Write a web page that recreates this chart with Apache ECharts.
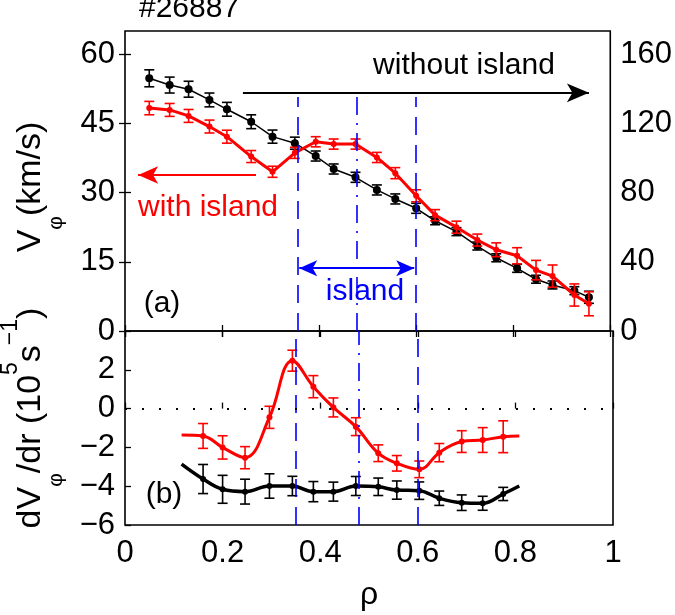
<!DOCTYPE html>
<html><head><meta charset="utf-8">
<script src="https://cdn.jsdelivr.net/npm/echarts@6/dist/echarts.min.js"></script>
<style>html,body{margin:0;padding:0;background:#fff}#c{width:675px;height:615px}</style>
</head><body><div id="c"></div>
<script>
// ---- data ----
const rhoTop = [0.050,0.092,0.131,0.174,0.210,0.260,0.304,0.350,0.393,0.430,0.475,0.519,0.557,0.600,0.639,0.683,0.726,0.765,0.808,0.847,0.881,0.926,0.956];
const redTop = [48.3,47.9,46.6,44.3,42.1,37.8,34.5,38.6,41.0,40.5,40.5,37.6,34.2,29.3,25.1,22.5,19.7,17.6,16.3,13.2,11.9,7.8,5.9];
const redTopErr = [1.45,1.4,1.4,1.4,1.4,1.3,1.2,1.2,1.1,1.1,1.1,1.1,1.2,1.3,1.2,1.3,1.3,1.5,1.75,2.1,2.4,2.4,2.6];
const blackTop = [146.0,142.1,139.7,133.5,128.1,120.9,112.3,108.5,101.1,93.6,88.8,81.5,76.3,70.9,63.7,57.4,49.1,42.3,36.2,29.9,26.6,23.3,19.5];
const blackTopErr = [4.9,4.6,4.6,4.0,4.0,4.0,3.8,3.5,2.9,2.9,2.9,2.9,2.9,2.9,2.3,2.3,2.3,2.3,2.3,2.3,2.3,2.3,3.5];

const rhoBot = [0.116,0.160,0.200,0.246,0.296,0.343,0.386,0.427,0.473,0.519,0.557,0.603,0.644,0.690,0.733,0.775,0.808];
const redBot = [-1.36,-1.41,-2.0,-2.53,-0.45,2.47,1.13,0.06,-0.93,-2.3,-2.82,-3.13,-2.27,-1.7,-1.62,-1.45,-1.41];
const redBotErr = [null,0.64,0.6,0.57,0.57,0.54,0.57,0.49,0.46,0.43,0.4,0.43,0.47,0.56,0.64,0.82,null];
const blackBot = [-2.86,-3.63,-4.16,-4.28,-3.99,-3.99,-4.28,-4.28,-3.99,-4.03,-4.2,-4.23,-4.62,-4.85,-4.88,-4.4,-3.99];
const blackBotErr = [null,0.75,0.72,0.64,0.63,0.5,0.52,0.49,0.49,0.45,0.47,0.45,0.37,0.4,0.36,0.34,null];

const islandLines = [0.355, 0.478, 0.600];
const islandStyles = ['dashed', 'dashdot', 'dashed'];
const islandTop = 50.7;
const arrowBlack = [[0.243, 51.6], [0.956, 51.6]];
const arrowRed = [[0.27, 33.8], [0.027, 33.8]];
const arrowBlue = [[0.359, 13.6], [0.596, 13.6]];

// ---- helpers ----
const FONT = 'Liberation Sans, Arial, Helvetica, sans-serif';
const RED = '#ff0000', BLUE = '#0000ff', BLACK = '#000000';
const TICKFS = 31;
const minus = v => String(v).replace('-', '\u2212');

function errRender(capW, lw) {
  return function (params, api) {
    const x = api.value(0), y = api.value(1), e = api.value(2);
    const p1 = api.coord([x, y - e]);
    const p2 = api.coord([x, y + e]);
    const style = { stroke: api.visual('color'), lineWidth: lw };
    return { type: 'group', children: [
      { type: 'line', shape: { x1: p1[0], y1: p1[1], x2: p2[0], y2: p2[1] }, style },
      { type: 'line', shape: { x1: p1[0] - capW / 2, y1: p1[1], x2: p1[0] + capW / 2, y2: p1[1] }, style },
      { type: 'line', shape: { x1: p2[0] - capW / 2, y1: p2[1], x2: p2[0] + capW / 2, y2: p2[1] }, style }
    ]};
  };
}
function errData(xs, ys, es) {
  const out = [];
  xs.forEach((x, i) => { if (es[i] != null) out.push([x, ys[i], es[i]]); });
  return out;
}
function lineData(xs, ys, es) {
  return xs.map((x, i) => es && es[i] == null ? { value: [x, ys[i]], symbol: 'none' } : [x, ys[i]]);
}
function dashType(t) { return t === 'dashdot' ? [18, 8, 2, 8] : [18, 10]; }

const xCommon = (grid, pos, showLabel) => ({
  type: 'value', gridIndex: grid, position: pos, min: 0, max: 1, interval: 0.2,
  axisLine: { show: false }, splitLine: { show: false },
  axisTick: { show: true, inside: true, length: 6, lineStyle: { color: BLACK, width: 1.3 } },
  axisLabel: { show: showLabel, color: BLACK, fontSize: TICKFS, fontFamily: FONT, margin: 13 }
});
const yTick = { show: true, inside: true, length: 6, lineStyle: { color: BLACK, width: 1.3 } };

const chart = echarts.init(document.getElementById('c'), null, { renderer: 'canvas' });
chart.setOption({
  animation: false,
  backgroundColor: '#fff',
  grid: [
    { left: 125, top: 31, width: 488, height: 300, show: true, borderColor: BLACK, borderWidth: 1.6, backgroundColor: 'transparent' },
    { left: 125, top: 331, width: 488, height: 194, show: true, borderColor: BLACK, borderWidth: 1.6, backgroundColor: 'transparent' }
  ],
  xAxis: [
    xCommon(0, 'bottom', false),
    xCommon(0, 'top', false),
    Object.assign(xCommon(1, 'bottom', true), { name: 'ρ', nameLocation: 'middle', nameGap: 54,
      nameTextStyle: { fontSize: 32, fontFamily: FONT, color: BLACK } }),
    xCommon(1, 'top', false)
  ],
  yAxis: [
    { type: 'value', gridIndex: 0, position: 'left', min: 0, max: 65, interval: 15,
      axisLine: { show: false }, splitLine: { show: false }, axisTick: yTick,
      axisLabel: { color: BLACK, fontSize: TICKFS, fontFamily: FONT, margin: 10, showMaxLabel: false } },
    { type: 'value', gridIndex: 0, position: 'right', min: 0, max: 65 * 8 / 3, interval: 40,
      axisLine: { show: false }, splitLine: { show: false }, axisTick: yTick,
      axisLabel: { color: BLACK, fontSize: TICKFS, fontFamily: FONT, margin: 10, showMaxLabel: false } },
    { type: 'value', gridIndex: 1, position: 'left', min: -6, max: 4, interval: 2,
      axisLine: { show: false }, splitLine: { show: false }, axisTick: yTick,
      axisLabel: { color: BLACK, fontSize: TICKFS, fontFamily: FONT, margin: 10, showMaxLabel: false, formatter: minus } }
  ],
  series: [
    // top: black (right axis)
    { type: 'line', xAxisIndex: 0, yAxisIndex: 1, data: lineData(rhoTop, blackTop), color: BLACK,
      lineStyle: { width: 1.5, color: BLACK }, symbol: 'circle', symbolSize: 8, itemStyle: { color: BLACK }, z: 3 },
    { type: 'custom', xAxisIndex: 0, yAxisIndex: 1, data: errData(rhoTop, blackTop, blackTopErr),
      renderItem: errRender(10, 1.6), itemStyle: { color: BLACK }, z: 3 },
    // top: red (left axis) + annotations
    { type: 'line', xAxisIndex: 0, yAxisIndex: 0, data: lineData(rhoTop, redTop), color: RED,
      lineStyle: { width: 3, color: RED }, symbol: 'circle', symbolSize: 6, itemStyle: { color: RED }, z: 4,
      markLine: {
        silent: true, symbol: 'none', label: { show: false }, animation: false,
        data: islandLines.map((x, i) => [
          { coord: [x, 0], lineStyle: { color: BLUE, width: 1.6, type: dashType(islandStyles[i]) } },
          { coord: [x, islandTop] }
        ]).concat([
          [{ coord: arrowBlack[0], symbol: 'none', lineStyle: { color: BLACK, width: 2, type: 'solid' } },
           { coord: arrowBlack[1], symbol: 'arrow', symbolSize: [14, 22] }],
          [{ coord: arrowRed[0], symbol: 'none', lineStyle: { color: RED, width: 2, type: 'solid' } },
           { coord: arrowRed[1], symbol: 'arrow', symbolSize: [13, 20] }],
          [{ coord: arrowBlue[0], symbol: 'arrow', symbolSize: [12, 18], lineStyle: { color: BLUE, width: 2, type: 'solid' } },
           { coord: arrowBlue[1], symbol: 'arrow', symbolSize: [12, 18] }]
        ])
      } },
    { type: 'custom', xAxisIndex: 0, yAxisIndex: 0, data: errData(rhoTop, redTop, redTopErr),
      renderItem: errRender(10, 1.6), itemStyle: { color: RED }, z: 4 },
    // bottom
    { type: 'line', xAxisIndex: 2, yAxisIndex: 2, data: lineData(rhoBot, blackBot, blackBotErr), color: BLACK,
      smooth: 0.4, lineStyle: { width: 3.5, color: BLACK }, symbol: 'circle', symbolSize: 6, itemStyle: { color: BLACK }, z: 3,
      markLine: {
        silent: true, symbol: 'none', label: { show: false }, animation: false,
        data: islandLines.map((x, i) => ({ xAxis: x, lineStyle: { color: BLUE, width: 1.6, type: dashType(islandStyles[i]) } }))
          .concat([{ yAxis: 0, lineStyle: { color: BLACK, width: 2, type: [2, 15] } }])
      } },
    { type: 'custom', xAxisIndex: 2, yAxisIndex: 2, data: errData(rhoBot, blackBot, blackBotErr),
      renderItem: errRender(10, 1.6), itemStyle: { color: BLACK }, z: 3 },
    { type: 'line', xAxisIndex: 2, yAxisIndex: 2, data: lineData(rhoBot, redBot, redBotErr), color: RED,
      smooth: 0.4, lineStyle: { width: 3, color: RED }, symbol: 'circle', symbolSize: 6, itemStyle: { color: RED }, z: 4 },
    { type: 'custom', xAxisIndex: 2, yAxisIndex: 2, data: errData(rhoBot, redBot, redBotErr),
      renderItem: errRender(10, 1.6), itemStyle: { color: RED }, z: 4 }
  ],
  graphic: [
    { type: 'text', x: 139, y: 9, style: { text: '#26887', fontSize: 30, fontFamily: FONT, fill: BLACK, verticalAlign: 'middle' } },
    { type: 'text', x: 464, y: 66, style: { text: 'without island', fontSize: 30, fontFamily: FONT, fill: BLACK, align: 'center', verticalAlign: 'middle' } },
    { type: 'text', x: 208, y: 208, style: { text: 'with island', fontSize: 30, fontFamily: FONT, fill: RED, align: 'center', verticalAlign: 'middle' } },
    { type: 'text', x: 365, y: 292, style: { text: 'island', fontSize: 30, fontFamily: FONT, fill: BLUE, align: 'center', verticalAlign: 'middle' } },
    { type: 'text', x: 162, y: 304, style: { text: '(a)', fontSize: 30, fontFamily: FONT, fill: BLACK, align: 'center', verticalAlign: 'middle' } },
    { type: 'text', x: 164, y: 495, style: { text: '(b)', fontSize: 30, fontFamily: FONT, fill: BLACK, align: 'center', verticalAlign: 'middle' } },
    { type: 'text', x: 31, y: 187, rotation: Math.PI / 2, style: {
        text: '{m|V}{s|φ}{m|(km/s)}', align: 'center', verticalAlign: 'middle', fill: BLACK,
        rich: { m: { fontSize: 34, fontFamily: FONT }, s: { fontSize: 21, fontFamily: FONT, padding: [50, 0, 0, 0] } } } },
    { type: 'text', x: 31, y: 418, rotation: Math.PI / 2, style: {
        text: '{m|dV}{s|φ}{m|/dr (10}{p|5}{m|s}{p|\u22121}{m|)}', align: 'center', verticalAlign: 'middle', fill: BLACK,
        rich: { m: { fontSize: 34, fontFamily: FONT }, s: { fontSize: 21, fontFamily: FONT, padding: [50, 0, 0, 0] },
                p: { fontSize: 23, fontFamily: FONT, padding: [0, 0, 40, 0] } } } }
  ]
});
</script></body></html>
